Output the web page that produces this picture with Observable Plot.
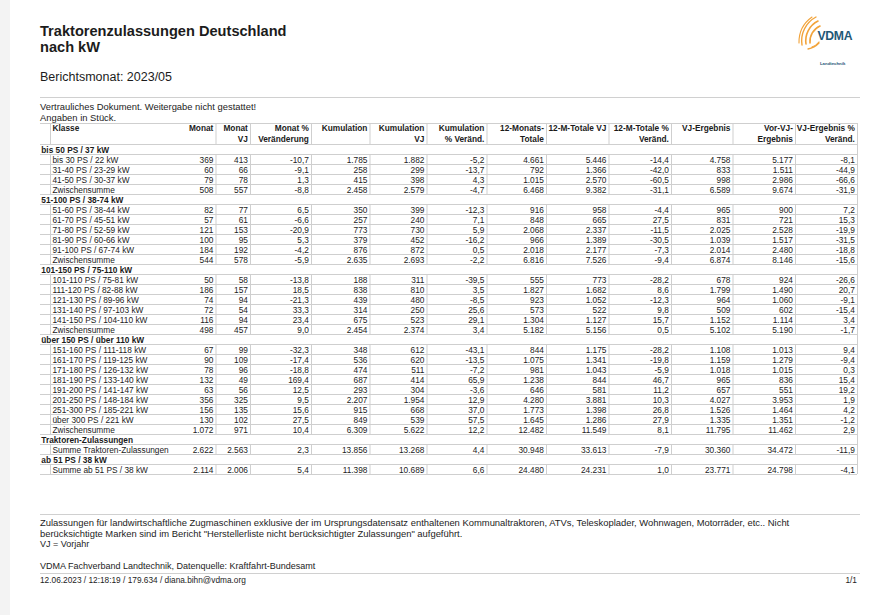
<!DOCTYPE html>
<html><head><meta charset="utf-8">
<script src="https://cdn.jsdelivr.net/npm/d3@7"></script>
<script src="https://cdn.jsdelivr.net/npm/@observablehq/plot@0.6"></script>
<style>
html,body{margin:0;padding:0;background:#fff;}
body{width:876px;height:615px;position:relative;overflow:hidden;font-family:"Liberation Sans",Arial,sans-serif;color:#1c1c1c;}
.t{position:absolute;white-space:nowrap;line-height:1;}
.strip{position:absolute;left:0;top:0;width:10px;height:615px;background:#f3f3f3;}
.rule{position:absolute;left:40px;width:820px;height:1px;background:#d0d0d0;}
#table{position:absolute;left:0;top:120px;}
</style></head><body>
<div class="strip"></div>
<div class="t" style="left:40px;top:24.4px;font-size:14.6px;font-weight:bold;">Traktorenzulassungen Deutschland</div>
<div class="t" style="left:40px;top:40px;font-size:14.6px;font-weight:bold;">nach kW</div>
<div class="t" style="left:40px;top:71.1px;font-size:12.5px;">Berichtsmonat: 2023/05</div>
<div class="rule" style="top:97px;"></div>
<div class="t" style="left:40px;top:102px;font-size:9.4px;">Vertrauliches Dokument. Weitergabe nicht gestattet!</div>
<div class="t" style="left:40px;top:113px;font-size:9.4px;">Angaben in Stück.</div>

<svg style="position:absolute;left:790px;top:12px" width="80" height="60" viewBox="790 12 80 60">
  <g fill="none" stroke="#f2a33a" stroke-linecap="round">
    <path d="M806 44 A22 22 0 0 1 818 21" stroke-width="1.6"/>
    <path d="M802 45 A27 27 0 0 1 816 17" stroke-width="1.4"/>
    <path d="M810 43 A17 17 0 0 1 820 26" stroke-width="1.6"/>
    <path d="M799 43 A31 31 0 0 1 812 17" stroke-width="1.1"/>
    <path d="M808 49 A20 20 0 0 0 819 43" stroke-width="1.3"/>
    <path d="M812 47 A15 15 0 0 0 819 42" stroke-width="1.2"/>
  </g>
  <text x="817.5" y="39.5" font-family="Liberation Sans, Arial, sans-serif" font-weight="bold" font-size="12.2" fill="#1f5876" letter-spacing="-0.3">VDMA</text>
  <text x="820" y="64.5" font-family="Liberation Sans, Arial, sans-serif" font-weight="bold" font-size="4.3" fill="#1f5876">Landtechnik</text>
</svg>

<div id="table"></div>

<div class="rule" style="top:514px;"></div>
<div class="t" style="left:40px;top:517.5px;font-size:9.42px;">Zulassungen für landwirtschaftliche Zugmaschinen exklusive der im Ursprungsdatensatz enthaltenen Kommunaltraktoren, ATVs, Teleskoplader, Wohnwagen, Motorräder, etc.. Nicht</div>
<div class="t" style="left:40px;top:528.5px;font-size:9.42px;">berücksichtigte Marken sind im Bericht "Herstellerliste nicht berücksichtigter Zulassungen" aufgeführt.</div>
<div class="t" style="left:40px;top:539.5px;font-size:9px;">VJ = Vorjahr</div>
<div class="t" style="left:40px;top:562px;font-size:9px;">VDMA Fachverband Landtechnik, Datenquelle: Kraftfahrt-Bundesamt</div>
<div class="rule" style="top:573px;"></div>
<div class="t" style="left:40px;top:575.5px;font-size:8.3px;">12.06.2023 / 12:18:19 / 179.634 / diana.bihn@vdma.org</div>
<div class="t" style="right:19px;top:575.5px;font-size:8.3px;">1/1</div>

<script>
// ---------- data ----------
const classes = [
  "bis 50 PS / 37 kW",
  "bis 30 PS / 22 kW", "31-40 PS / 23-29 kW", "41-50 PS / 30-37 kW", "Zwischensumme",
  "51-100 PS / 38-74 kW",
  "51-60 PS / 38-44 kW", "61-70 PS / 45-51 kW", "71-80 PS / 52-59 kW", "81-90 PS / 60-66 kW", "91-100 PS / 67-74 kW", "Zwischensumme",
  "101-150 PS / 75-110 kW",
  "101-110 PS / 75-81 kW", "111-120 PS / 82-88 kW", "121-130 PS / 89-96 kW", "131-140 PS / 97-103 kW", "141-150 PS / 104-110 kW", "Zwischensumme",
  "über 150 PS / über 110 kW",
  "151-160 PS / 111-118 kW", "161-170 PS / 119-125 kW", "171-180 PS / 126-132 kW", "181-190 PS / 133-140 kW", "191-200 PS / 141-147 kW", "201-250 PS / 148-184 kW", "251-300 PS / 185-221 kW", "über 300 PS / 221 kW", "Zwischensumme",
  "Traktoren-Zulassungen",
  "Summe Traktoren-Zulassungen",
  "ab 51 PS / 38 kW",
  "Summe ab 51 PS / 38 kW"
];
const rowKind = [
  "group", "item", "item", "item", "item",
  "group", "item", "item", "item", "item", "item", "item",
  "group", "item", "item", "item", "item", "item", "item",
  "group", "item", "item", "item", "item", "item", "item", "item", "item", "item",
  "group", "item",
  "group", "item"
];
const headerLabels = ["Monat", "Monat\nVJ", "Monat %\nVeränderung", "Kumulation", "Kumulation\nVJ", "Kumulation\n% Veränd.",
  "12-Monats-\nTotale", "12-M-Totale VJ", "12-M-Totale %\nVeränd.", "VJ-Ergebnis", "Vor-VJ-\nErgebnis", "VJ-Ergebnis %\nVeränd."];

const monat    = [null, 369, 60, 79, 508, null, 82, 57, 121, 100, 184, 544, null, 50, 186, 74, 72, 116, 498, null, 67, 90, 78, 132, 63, 356, 156, 130, 1072, null, 2622, null, 2114];
const monatVJ  = [null, 413, 66, 78, 557, null, 77, 61, 153, 95, 192, 578, null, 58, 157, 94, 54, 94, 457, null, 99, 109, 96, 49, 56, 325, 135, 102, 971, null, 2563, null, 2006];
const monatPct = [null, -10.7, -9.1, 1.3, -8.8, null, 6.5, -6.6, -20.9, 5.3, -4.2, -5.9, null, -13.8, 18.5, -21.3, 33.3, 23.4, 9.0, null, -32.3, -17.4, -18.8, 169.4, 12.5, 9.5, 15.6, 27.5, 10.4, null, 2.3, null, 5.4];
const kum      = [null, 1785, 258, 415, 2458, null, 350, 257, 773, 379, 876, 2635, null, 188, 838, 439, 314, 675, 2454, null, 348, 536, 474, 687, 293, 2207, 915, 849, 6309, null, 13856, null, 11398];
const kumVJ    = [null, 1882, 299, 398, 2579, null, 399, 240, 730, 452, 872, 2693, null, 311, 810, 480, 250, 523, 2374, null, 612, 620, 511, 414, 304, 1954, 668, 539, 5622, null, 13268, null, 10689];
const kumPct   = [null, -5.2, -13.7, 4.3, -4.7, null, -12.3, 7.1, 5.9, -16.2, 0.5, -2.2, null, -39.5, 3.5, -8.5, 25.6, 29.1, 3.4, null, -43.1, -13.5, -7.2, 65.9, -3.6, 12.9, 37.0, 57.5, 12.2, null, 4.4, null, 6.6];
const tot12    = [null, 4661, 792, 1015, 6468, null, 916, 848, 2068, 966, 2018, 6816, null, 555, 1827, 923, 573, 1304, 5182, null, 844, 1075, 981, 1238, 646, 4280, 1773, 1645, 12482, null, 30948, null, 24480];
const tot12VJ  = [null, 5446, 1366, 2570, 9382, null, 958, 665, 2337, 1389, 2177, 7526, null, 773, 1682, 1052, 522, 1127, 5156, null, 1175, 1341, 1043, 844, 581, 3881, 1398, 1286, 11549, null, 33613, null, 24231];
const tot12Pct = [null, -14.4, -42.0, -60.5, -31.1, null, -4.4, 27.5, -11.5, -30.5, -7.3, -9.4, null, -28.2, 8.6, -12.3, 9.8, 15.7, 0.5, null, -28.2, -19.8, -5.9, 46.7, 11.2, 10.3, 26.8, 27.9, 8.1, null, -7.9, null, 1.0];
const vjErg    = [null, 4758, 833, 998, 6589, null, 965, 831, 2025, 1039, 2014, 6874, null, 678, 1799, 964, 509, 1152, 5102, null, 1108, 1159, 1018, 965, 657, 4027, 1526, 1335, 11795, null, 30360, null, 23771];
const vorVjErg = [null, 5177, 1511, 2986, 9674, null, 900, 721, 2528, 1517, 2480, 8146, null, 924, 1490, 1060, 602, 1114, 5190, null, 1013, 1279, 1015, 836, 551, 3953, 1464, 1351, 11462, null, 34472, null, 24798];
const vjErgPct = [null, -8.1, -44.9, -66.6, -31.9, null, 7.2, 15.3, -19.9, -31.5, -18.8, -15.6, null, -26.6, 20.7, -9.1, -15.4, 3.4, -1.7, null, 9.4, -9.4, 0.3, 15.4, 19.2, 1.9, 4.2, -1.2, 2.9, null, -11.9, null, -4.1];

// ---------- layout ----------
const FONT = "Liberation Sans, Arial, sans-serif";
const FS = 8.3, INK = "#1a1a1a", GRID = "#cfcfcf";
const PITCH = 10, HEADER_PX = 21, TOP = 3;
const HU = HEADER_PX / PITCH;
const N = classes.length;
const colEdges = [215.5, 250, 311, 369.5, 426.5, 486.5, 546, 608.5, 671, 732.5, 795, 857];
const colRight = colEdges.map(e => e - 2.6);
const innerEdges = [50, ...colEdges.slice(0, -1)];
const tableLeft = 40, tableRight = 857;
const LH = 1.28;
const headerY = -HU + (7.7 - 0.71 * LH * FS) / PITCH;
const BASE = 0.8;

const de = d3.formatLocale({decimal: ",", thousands: ".", grouping: [3], currency: ["", "€"], minus: "-"});
const intFmt = de.format(",d"), pctFmt = de.format(",.1f");

const valueCols = [monat, monatVJ, monatPct, kum, kumVJ, kumPct, tot12, tot12VJ, tot12Pct, vjErg, vorVjErg, vjErgPct];
const isPct = [false, false, true, false, false, true, false, false, true, false, false, true];
const cells = [];
valueCols.forEach((arr, c) => arr.forEach((v, i) => {
  if (v != null) cells.push({row: i, col: c, text: isPct[c] ? pctFmt(v) : intFmt(v)});
}));

const hLines = [-HU, ...d3.range(0, N + 1)];
const vSegs = [];
innerEdges.forEach(x => vSegs.push({x, y1: -HU, y2: 0}));
rowKind.forEach((k, i) => {
  if (k !== "group") innerEdges.forEach(x => vSegs.push({x, y1: i, y2: i + 1}));
});
vSegs.push({x: tableRight, y1: -HU, y2: N});

const chart = Plot.plot({
  width: 876,
  height: 358,
  margin: 0,
  x: {domain: [0, 876], range: [0, 876], axis: null},
  y: {domain: [-HU, N], range: [TOP, TOP + (HU + N) * PITCH], axis: null},
  style: {fontFamily: FONT, background: "transparent", color: INK, overflow: "visible"},
  marks: [
    Plot.ruleY(hLines, {y: d => d, x1: tableLeft, x2: tableRight, stroke: GRID, strokeWidth: 1}),
    Plot.ruleX(vSegs, {x: "x", y1: "y1", y2: "y2", stroke: GRID, strokeWidth: 1}),
    Plot.text(headerLabels, {x: (d, i) => colRight[i], y: headerY, text: d => d, textAnchor: "end", lineAnchor: "top",
      lineHeight: LH, fontWeight: "bold", fontSize: FS, fill: INK}),
    Plot.text(["Klasse"], {x: 52, y: headerY, text: d => d, textAnchor: "start", lineAnchor: "top",
      lineHeight: LH, fontWeight: "bold", fontSize: FS, fill: INK}),
    Plot.text(classes, {filter: (d, i) => rowKind[i] === "group", x: 40.8, y: (d, i) => i + BASE, text: d => d,
      textAnchor: "start", lineAnchor: "bottom", fontWeight: "bold", fontSize: FS, fill: INK}),
    Plot.text(classes, {filter: (d, i) => rowKind[i] !== "group", x: 52, y: (d, i) => i + BASE, text: d => d,
      textAnchor: "start", lineAnchor: "bottom", fontSize: FS, fill: INK}),
    Plot.text(cells, {x: d => colRight[d.col], y: d => d.row + BASE, text: "text",
      textAnchor: "end", lineAnchor: "bottom", fontSize: FS, fill: INK})
  ]
});
document.getElementById("table").appendChild(chart);
</script>
</body></html>
